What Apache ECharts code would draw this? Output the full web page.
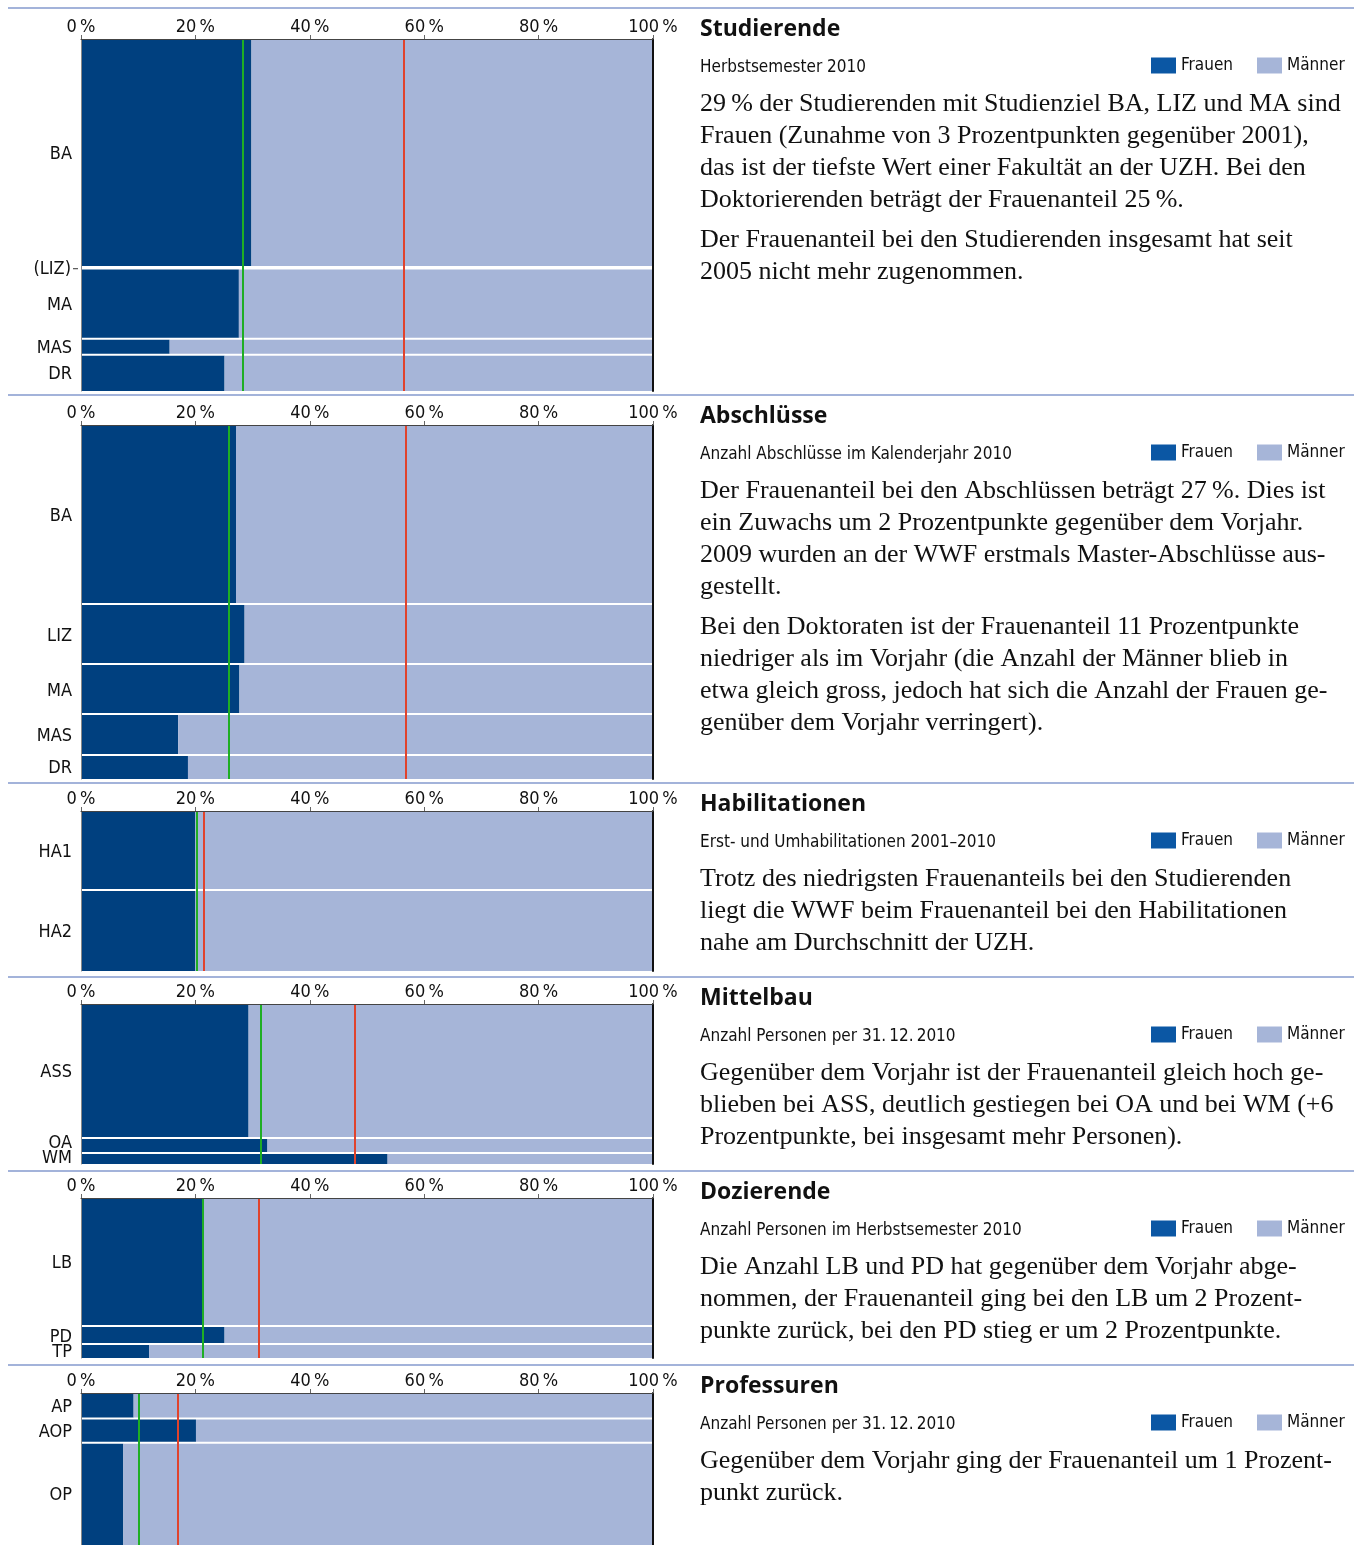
<!DOCTYPE html>
<html>
<head>
<meta charset="utf-8">
<script src="https://cdn.jsdelivr.net/npm/echarts@6/dist/echarts.min.js"></script>
<style>
  html, body { margin: 0; padding: 0; background: #fff; }
  #chart { width: 1359px; height: 1545px; }
</style>
</head>
<body>
<div id="chart"></div>
<script>
// Werte: Anzahl (Balkenhoehe) und Frauenanteil in % (Balkenbreite)
const studCats = ['BA', '(LIZ)', 'MA', 'MAS', 'DR'];
const studTotal = [2280, 15, 700, 160, 350];
const studFrauen = [29.8, 27.0, 27.6, 15.5, 25.1];

const abschCats = ['BA', 'LIZ', 'MA', 'MAS', 'DR'];
const abschTotal = [360, 120, 100, 82, 46];
const abschFrauen = [27.1, 28.6, 27.7, 17.0, 18.7];

const habilCats = ['HA1', 'HA2'];
const habilTotal = [15, 15];
const habilFrauen = [20.0, 20.0];

const mittelCats = ['ASS', 'OA', 'WM'];
const mittelTotal = [270, 30, 20];
const mittelFrauen = [29.3, 32.6, 53.6];

const dozCats = ['LB', 'PD', 'TP'];
const dozTotal = [129, 18, 13];
const dozFrauen = [21.4, 25.1, 11.9];

const profCats = ['AP', 'AOP', 'OP'];
const profTotal = [11, 10, 42];
const profFrauen = [9.2, 20.1, 7.4];

// Frauenanteil Fakultaet (gruen) und UZH (rot)
const fakMittel = [28.3, 25.8, 20.2, 31.4, 21.2, 10.1];
const uzhMittel = [56.4, 56.7, 21.4, 47.9, 31.1, 16.9];

const xTicks = [0, 20, 40, 60, 80, 100];

const titles = ['Studierende', 'Abschlüsse', 'Habilitationen', 'Mittelbau', 'Dozierende', 'Professuren'];
const subtitles = [
  'Herbstsemester 2010',
  'Anzahl Abschlüsse im Kalenderjahr 2010',
  'Erst- und Umhabilitationen 2001–2010',
  'Anzahl Personen per 31.\u200912.\u20092010',
  'Anzahl Personen im Herbstsemester 2010',
  'Anzahl Personen per 31.\u200912.\u20092010'
];
const texts = [
  [
    ['29\u2009% der Studierenden mit Studienziel BA, LIZ und MA sind',
     'Frauen (Zunahme von 3 Prozentpunkten gegenüber 2001),',
     'das ist der tiefste Wert einer Fakultät an der UZH. Bei den',
     'Doktorierenden beträgt der Frauenanteil 25\u2009%.'],
    ['Der Frauenanteil bei den Studierenden insgesamt hat seit',
     '2005 nicht mehr zugenommen.']
  ],
  [
    ['Der Frauenanteil bei den Abschlüssen beträgt 27\u2009%. Dies ist',
     'ein Zuwachs um 2 Prozentpunkte gegenüber dem Vorjahr.',
     '2009 wurden an der WWF erstmals Master-Abschlüsse aus-',
     'gestellt.'],
    ['Bei den Doktoraten ist der Frauenanteil 11 Prozentpunkte',
     'niedriger als im Vorjahr (die Anzahl der Männer blieb in',
     'etwa gleich gross, jedoch hat sich die Anzahl der Frauen ge-',
     'genüber dem Vorjahr verringert).']
  ],
  [
    ['Trotz des niedrigsten Frauenanteils bei den Studierenden',
     'liegt die WWF beim Frauenanteil bei den Habilitationen',
     'nahe am Durchschnitt der UZH.']
  ],
  [
    ['Gegenüber dem Vorjahr ist der Frauenanteil gleich hoch ge-',
     'blieben bei ASS, deutlich gestiegen bei OA und bei WM (+6',
     'Prozentpunkte, bei insgesamt mehr Personen).']
  ],
  [
    ['Die Anzahl LB und PD hat gegenüber dem Vorjahr abge-',
     'nommen, der Frauenanteil ging bei den LB um 2 Prozent-',
     'punkte zurück, bei den PD stieg er um 2 Prozentpunkte.']
  ],
  [
    ['Gegenüber dem Vorjahr ging der Frauenanteil um 1 Prozent-',
     'punkt zurück.']
  ]
];

const groups = [
  { cats: studCats, total: studTotal, frauen: studFrauen },
  { cats: abschCats, total: abschTotal, frauen: abschFrauen },
  { cats: habilCats, total: habilTotal, frauen: habilFrauen },
  { cats: mittelCats, total: mittelTotal, frauen: mittelFrauen },
  { cats: dozCats, total: dozTotal, frauen: dozFrauen },
  { cats: profCats, total: profTotal, frauen: profFrauen }
];

// Layout
const sepY = [8, 395, 783, 977, 1171, 1365];
const gridTop = [39, 425, 811, 1004, 1198, 1393];
const gridHeight = [352, 354, 160, 160, 160, 165];
const PLOT_LEFT = 81, PLOT_WIDTH = 572;

const DARK = '#00407f';
const LIGHT = '#a6b5d8';
const condensed = "'Liberation Sans Narrow', 'DejaVu Sans Condensed', 'Roboto Condensed', 'Roboto', sans-serif";
const boldSans = "'Open Sans', 'Noto Sans', sans-serif";
const serif = "'Liberation Serif', 'DejaVu Serif', serif";

// Kumulierte Zeilen: [start, ende, frauenanteil]
const rowsByPanel = groups.map(g => {
  let acc = 0;
  return g.total.map((t, i) => {
    const row = [acc, acc + t, g.frauen[i]];
    acc += t;
    return row;
  });
});

function drawBar(isFrauen, p) {
  const rows = rowsByPanel[p];
  const cats = groups[p].cats;
  return function (params, api) {
    const i = params.dataIndex;
    const start = api.value(0), end = api.value(1), pct = api.value(2);
    const a = api.coord([isFrauen ? 0 : pct, start]);
    const b = api.coord([isFrauen ? pct : 100, end]);
    const last = i === rows.length - 1;
    const h = Math.max(0, b[1] - a[1] - (last ? 0 : 2));
    const children = [{
      type: 'rect',
      shape: { x: a[0], y: a[1], width: b[0] - a[0], height: h },
      style: { fill: api.visual('color') }
    }];
    if (isFrauen) {
      // Beschriftung mittig, von unten her mit Mindestabstand
      const ys = rows.map(r => (api.coord([0, r[0]])[1] + api.coord([0, r[1]])[1]) / 2);
      let limit = api.coord([0, rows[rows.length - 1][1]])[1] - 7;
      for (let j = ys.length - 1; j >= 0; j--) {
        ys[j] = Math.min(ys[j], limit);
        limit = ys[j] - 15;
      }
      const tiny = (b[1] - a[1]) < 5;
      children.push({
        type: 'text',
        style: {
          text: cats[i], x: a[0] - (tiny ? 10 : 9), y: ys[i] + 1,
          align: 'right', verticalAlign: 'middle',
          fontSize: 18, fontFamily: condensed, fill: '#111'
        }
      });
      if (tiny) {
        children.push({
          type: 'line',
          shape: { x1: a[0] - 8, y1: ys[i], x2: a[0] - 3, y2: ys[i] },
          style: { stroke: '#333', lineWidth: 1 }
        });
      }
    }
    return { type: 'group', children: children };
  };
}

const grid = [], xAxis = [], yAxis = [], series = [], title = [], legend = [];
const graphic = [];

groups.forEach((g, p) => {
  const sum = g.total.reduce((s, v) => s + v, 0);
  grid.push({ left: PLOT_LEFT, width: PLOT_WIDTH, top: gridTop[p], height: gridHeight[p] });
  xAxis.push({
    type: 'value', gridIndex: p, min: 0, max: 100, interval: 20, position: 'top', z: 5,
    axisLine: { show: true, lineStyle: { color: '#444', width: 1 } },
    axisTick: { show: true, length: 4, lineStyle: { color: '#666' } },
    axisLabel: {
      margin: 3, fontSize: 18, fontFamily: condensed, color: '#111',
      formatter: v => xTicks.indexOf(v) >= 0 ? v + '\u2009%' : ''
    },
    splitLine: { show: false }
  });
  yAxis.push({
    type: 'value', gridIndex: p, min: 0, max: sum, inverse: true, z: 5,
    axisLine: { show: true, lineStyle: { color: '#888', width: 1 } },
    axisTick: { show: false }, axisLabel: { show: false }, splitLine: { show: false }
  });
  yAxis.push({
    type: 'value', gridIndex: p, min: 0, max: sum, inverse: true, position: 'right', z: 5,
    axisLine: { show: true, lineStyle: { color: '#111', width: 2 } },
    axisTick: { show: false }, axisLabel: { show: false }, splitLine: { show: false }
  });
  series.push({
    type: 'custom', name: 'Frauen', xAxisIndex: p, yAxisIndex: 2 * p,
    itemStyle: { color: DARK }, renderItem: drawBar(true, p),
    data: rowsByPanel[p], silent: true, animation: false
  });
  series.push({
    type: 'custom', name: 'Männer', xAxisIndex: p, yAxisIndex: 2 * p,
    itemStyle: { color: LIGHT }, renderItem: drawBar(false, p),
    data: rowsByPanel[p], silent: true, animation: false,
    markLine: {
      silent: true, symbol: 'none', animation: false, label: { show: false },
      lineStyle: { type: 'solid', width: 2 },
      emphasis: { disabled: true },
      data: [
        { xAxis: fakMittel[p], lineStyle: { color: '#1fae24', type: 'solid', width: 2 } },
        { xAxis: uzhMittel[p], lineStyle: { color: '#e0432c', type: 'solid', width: 2 } }
      ]
    }
  });

  const s = sepY[p];
  title.push({
    left: 700, top: s + 10, padding: 0, itemGap: 18,
    text: titles[p], subtext: subtitles[p],
    textStyle: { fontFamily: boldSans, fontSize: 23, fontWeight: 'bold', color: '#111' },
    subtextStyle: { fontFamily: condensed, fontSize: 17, color: '#111' }
  });
  legend.push({
    left: 1151, top: s + 49, padding: 0, itemWidth: 25, itemHeight: 16, itemGap: 24,
    selectedMode: false, icon: 'rect',
    textStyle: { fontFamily: condensed, fontSize: 17, color: '#111', padding: [0, 0, 0, 0] },
    data: [
      { name: 'Frauen', itemStyle: { color: '#0b57a4' } },
      { name: 'Männer', itemStyle: { color: LIGHT } }
    ]
  });

  graphic.push({
    type: 'line', silent: true,
    shape: { x1: 8, y1: s, x2: 1354, y2: s },
    style: { stroke: '#a3b3da', lineWidth: 2 }
  });
  let y = s + 80;
  texts[p].forEach(par => {
    graphic.push({
      type: 'text', left: 700, top: y, silent: true,
      style: { text: par.join('\n'), fontFamily: serif, fontSize: 26, lineHeight: 32, fill: '#111' }
    });
    y += par.length * 32 + 8;
  });
});

const chart = echarts.init(document.getElementById('chart'));
chart.setOption({
  animation: false,
  title: title,
  legend: legend,
  grid: grid,
  xAxis: xAxis,
  yAxis: yAxis,
  series: series,
  graphic: graphic
});
</script>
</body>
</html>
